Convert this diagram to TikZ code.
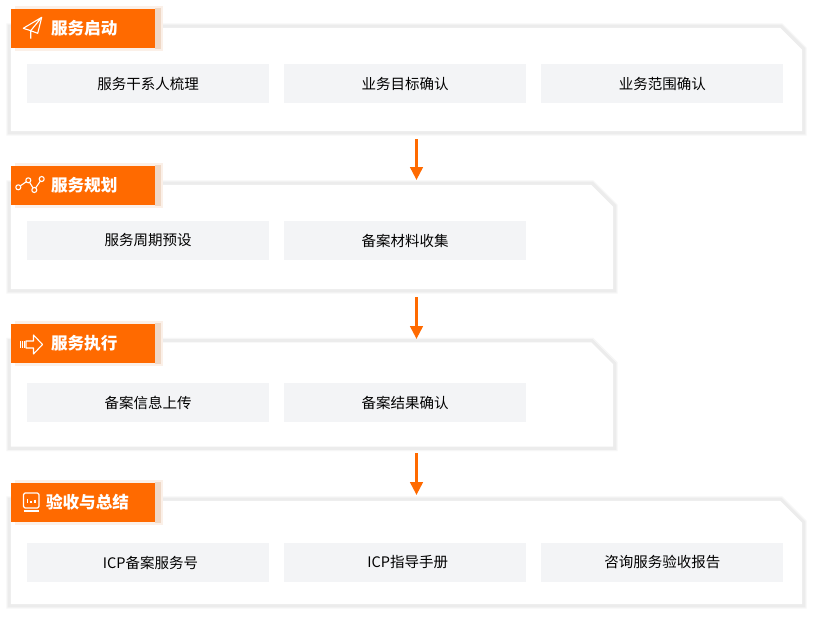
\documentclass[tikz,border=0pt]{standalone}
\usepackage{fontspec}
\setmainfont{Noto Sans CJK SC}
\usetikzlibrary{positioning,arrows.meta}
\definecolor{SvcOrange}{HTML}{FF6A00}
\definecolor{SvcItem}{HTML}{F3F4F6}
\definecolor{SvcShade}{HTML}{ECECEC}
\definecolor{SvcFaint}{HTML}{F6F6F6}
\definecolor{SvcGlow}{HTML}{FBF0E8}
\definecolor{SvcEdge}{HTML}{EFD8C6}
\newcommand{\cardpath}[1]{
  (#1.north west)--([xshift=-22pt]#1.north east)--([yshift=-22pt]#1.north east)
  --(#1.south east)--(#1.south west)--cycle}
\newcommand{\drawcard}[1]{
  \draw[color=SvcFaint,line width=9pt] \cardpath{#1};
  \draw[color=SvcShade,line width=6.5pt] \cardpath{#1};
  \fill[white] \cardpath{#1};
}
\newcommand{\drawglow}[1]{
  \fill[SvcGlow] (15,{#1-22.5}) rectangle (163,{#1+22.5});
  \fill[SvcEdge] (155,{#1-20.5}) rectangle (161,{#1+20.5});
}
\begin{document}
\begin{tikzpicture}[x=1pt,y=-1pt,>=stealth,node distance=14.8pt]
  \tikzstyle{cardbox}=[inner sep=0pt,minimum width=791pt,minimum height=103pt]
  \tikzstyle{shortcard}=[inner sep=0pt,minimum width=602pt,minimum height=104pt]
  \tikzstyle{itembox}=[fill=SvcItem,inner sep=0pt,minimum width=242pt,minimum height=39pt,
    text=black,font=\fontsize{14.5}{16}\selectfont]
  \tikzstyle{tabbox}=[fill=SvcOrange,inner sep=0pt,minimum width=144pt,minimum height=39pt]
  \tikzstyle{tabtext}=[inner sep=0pt,text=white,font=\fontsize{16.6}{18}\selectfont\bfseries]
  \tikzstyle{iconline}=[draw=white,line width=1.1pt,line join=round]
  \tikzstyle{flow}=[-{Triangle[width=12.5pt,length=13pt]},color=SvcOrange,line width=3pt]
  \useasboundingbox[fill=white] (0,0) rectangle (813,616);
  % cards
  \node[cardbox] (card1) at (406.5,79.5) {};
  \node[shortcard] (card2) at (312,237) {};
  \node[shortcard] (card3) at (312,394.5) {};
  \node[cardbox] (card4) at (406.5,552.5) {};
  \drawcard{card1}
  \drawcard{card2}
  \drawcard{card3}
  \drawcard{card4}
  % items
  \node[itembox] (a1) at (148,83.5) {服务干系人梳理};
  \node[itembox,right=of a1] (a2) {业务目标确认};
  \node[itembox,right=of a2] (a3) {业务范围确认};
  \node[itembox] (b1) at (148,240.5) {服务周期预设};
  \node[itembox,right=of b1] (b2) {备案材料收集};
  \node[itembox] (c1) at (148,402.5) {备案信息上传};
  \node[itembox,right=of c1] (c2) {备案结果确认};
  \node[itembox] (d1) at (148,562.5) {\hspace*{5pt}ICP备案服务号};
  \node[itembox,right=of d1] (d2) {\hspace*{5pt}ICP指导手册};
  \node[itembox,right=of d2] (d3) {咨询服务验收报告};
  % tabs
  \drawglow{28.5}
  \drawglow{185.5}
  \drawglow{343.5}
  \drawglow{502.5}
  \node[tabbox] (tab1) at (83,28.5) {};
  \node[tabbox] (tab2) at (83,185.5) {};
  \node[tabbox] (tab3) at (83,343.5) {};
  \node[tabbox] (tab4) at (83,502.5) {};
  \node[tabtext,right=40pt of tab1.west] (t1) {服务启动};
  \node[tabtext,right=40pt of tab2.west] (t2) {服务规划};
  \node[tabtext,right=40pt of tab3.west] (t3) {服务执行};
  \node[tabtext,right=35pt of tab4.west] (t4) {验收与总结};
  % icons
  \draw[iconline] (41.7,17.3)--(23.3,28.3)--(30.7,30.7)--cycle;
  \draw[iconline] (41.7,17.3)--(37.7,33.3)--(30.7,30.7)--(30.7,38.7);
  \draw[iconline] (18.3,187.3)--(28.3,180.3)--(34.3,190)--(41.7,179);
  \foreach \px/\py in {18.3/187.3,28.3/180.3,34.3/190,41.7/179}
    \draw[iconline,fill=SvcOrange] (\px,\py) circle (2.5pt);
  \draw[iconline] (20.5,341)--(20.5,348) (22.5,341)--(22.5,348) (24.5,341)--(24.5,348);
  \draw[iconline] (26,341)--(33.5,341)--(33.5,335)--(42.5,344.5)--(33.5,354)--(33.5,348)--(26,348)--cycle;
  \draw[iconline,rounded corners=1.5pt] (23.5,493) rectangle (39,508);
  \draw[iconline] (23.5,511)--(39,511);
  \draw[iconline] (27.5,499)--(27.5,503) (31,501)--(31,503) (35,499.5)--(35,503);
  % arrows
  \coordinate (f1) at (416.5,139);
  \coordinate (f2) at (416.5,180);
  \coordinate (g1) at (416.5,297);
  \coordinate (g2) at (416.5,339);
  \coordinate (h1) at (416.5,453);
  \coordinate (h2) at (416.5,495);
  \draw[flow] (f1)--(f2);
  \draw[flow] (g1)--(g2);
  \draw[flow] (h1)--(h2);
\end{tikzpicture}
\end{document}
